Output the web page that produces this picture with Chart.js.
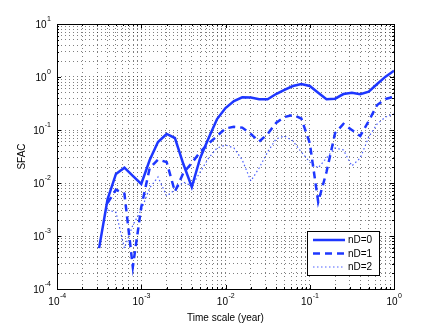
<!DOCTYPE html>
<html>
<head>
<meta charset="utf-8">
<script src="https://cdn.jsdelivr.net/npm/chart.js@4"></script>
<style>
  html, body { margin: 0; padding: 0; background: #fff; }
  #wrap { width: 436px; height: 327px; }
</style>
</head>
<body>
<div id="wrap"><canvas id="c" width="436" height="327"></canvas></div>
<script>
const timeScale = [0.000316, 0.000398, 0.000501, 0.000631, 0.000794, 0.001, 0.00126, 0.00158, 0.002, 0.00251,
  0.00316, 0.00398, 0.00501, 0.00631, 0.00794, 0.01, 0.0126, 0.0158, 0.02, 0.0251,
  0.0316, 0.0398, 0.0501, 0.0631, 0.0794, 0.1, 0.126, 0.158, 0.2, 0.251,
  0.316, 0.398, 0.501, 0.631, 0.794, 1];

const sfacND0 = [0.00059, 0.0049, 0.0148, 0.0195, 0.0136, 0.0096, 0.0272, 0.0594, 0.0841, 0.0706,
  0.0228, 0.0084, 0.0297, 0.0706, 0.161, 0.26, 0.352, 0.414, 0.41, 0.379,
  0.38, 0.477, 0.569, 0.676, 0.738, 0.676, 0.506, 0.379, 0.39, 0.477,
  0.506, 0.472, 0.528, 0.738, 1.014, 1.315];

const sfacND1 = [null, 0.0042, 0.0075, 0.0063, 0.00026, 0.0035, 0.0192, 0.0277, 0.0249, 0.00686,
  0.0155, 0.0238, 0.0385, 0.0556, 0.077, 0.107, 0.115, 0.111, 0.084, 0.0607,
  0.084, 0.1355, 0.176, 0.192, 0.165, 0.0569, 0.0044, 0.0161, 0.0877, 0.13,
  0.1, 0.077, 0.148, 0.296, 0.385, 0.425];

const sfacND2 = [null, 0.0031, 0.0028, 0.00059, 0.0016, 0.0031, 0.0081, 0.013, 0.0057, 0.0074,
  0.0104, 0.0088, 0.0161, 0.0297, 0.0457, 0.052, 0.0457, 0.0272, 0.0109, 0.0192,
  0.0385, 0.0676, 0.077, 0.062, 0.0385, 0.0249, 0.0192, 0.0297, 0.0457, 0.042,
  0.021, 0.0297, 0.0738, 0.13, 0.176, 0.2];

const seriesLabels = ['nD=0', 'nD=1', 'nD=2'];
const xTickDecades = [1e-4, 1e-3, 1e-2, 1e-1, 1];
const yTickDecades = [1e-4, 1e-3, 1e-2, 1e-1, 1, 10];

const BLUE = 'rgb(30,55,255)';
const FONT = '"Liberation Sans", Arial, Helvetica, sans-serif';

function toPairs(ys) {
  return timeScale.map((x, i) => ({x: x, y: ys[i]}));
}
function logTicks(decades) {
  const out = [];
  for (let i = 0; i < decades.length; i++) {
    const d = decades[i];
    out.push(d);
    if (i < decades.length - 1) for (let k = 2; k <= 9; k++) out.push(+(d * k).toPrecision(3));
  }
  return out;
}
function exponentOf(v) {
  const e = Math.round(Math.log10(v));
  return Math.abs(Math.log10(v) - e) > 1e-6 ? null : e;
}

const boxPlugin = {
  id: 'box',
  afterDatasetsDraw(chart) {
    const {ctx, chartArea: a} = chart;
    ctx.save();
    ctx.strokeStyle = '#000';
    ctx.lineWidth = 1;
    ctx.strokeRect(Math.round(a.left) + 0.5, Math.round(a.top) + 0.5,
      Math.round(a.right - a.left), Math.round(a.bottom - a.top));
    const xs = chart.scales.x, ys = chart.scales.y;
    ctx.beginPath();
    xs.ticks.forEach(t => {
      const px = Math.round(xs.getPixelForValue(t.value)) + 0.5;
      const len = exponentOf(t.value) !== null ? 4 : 2;
      ctx.moveTo(px, a.bottom); ctx.lineTo(px, a.bottom - len);
      ctx.moveTo(px, a.top); ctx.lineTo(px, a.top + len);
    });
    ys.ticks.forEach(t => {
      const py = Math.round(ys.getPixelForValue(t.value)) + 0.5;
      const len = exponentOf(t.value) !== null ? 4 : 2;
      ctx.moveTo(a.left, py); ctx.lineTo(a.left + len, py);
      ctx.moveTo(a.right, py); ctx.lineTo(a.right - len, py);
    });
    ctx.stroke();
    ctx.restore();
  },
  afterDraw(chart) {
    const {ctx, chartArea: a} = chart;
    // power-of-ten tick labels with raised exponent
    const xs = chart.scales.x, ys = chart.scales.y;
    ctx.save();
    ctx.fillStyle = '#000';
    ctx.textBaseline = 'middle';
    ctx.textAlign = 'left';
    const baseFont = '10px ' + FONT, supFont = '7px ' + FONT;
    xTickDecades.forEach(v => {
      const e = String(exponentOf(v));
      ctx.font = baseFont; const wb = ctx.measureText('10').width;
      ctx.font = supFont; const we = ctx.measureText(e).width;
      const px = xs.getPixelForValue(v);
      const x0 = px - (wb + we) / 2;
      ctx.font = baseFont; ctx.fillText('10', x0, a.bottom + 13);
      ctx.font = supFont; ctx.fillText(e, x0 + wb + 0.5, a.bottom + 7);
    });
    yTickDecades.forEach(v => {
      const e = String(exponentOf(v));
      ctx.font = baseFont; const wb = ctx.measureText('10').width;
      ctx.font = supFont; const we = ctx.measureText(e).width;
      const py = ys.getPixelForValue(v);
      const xr = a.left - 6;
      ctx.font = supFont; ctx.fillText(e, xr - we, py - 5);
      ctx.font = baseFont; ctx.fillText('10', xr - we - wb - 0.5, py + 1);
    });
    // legend box
    const ds = chart.data.datasets;
    const bx = a.right - 87, by = a.bottom - 58, bw = 72, bh = 44;
    ctx.fillStyle = '#fff';
    ctx.fillRect(bx, by, bw, bh);
    ctx.strokeStyle = '#000';
    ctx.lineWidth = 1;
    ctx.strokeRect(bx + 0.5, by + 0.5, bw, bh);
    ctx.font = '10px ' + FONT;
    ds.forEach((d, i) => {
      const y = by + 9 + i * 13.5;
      ctx.beginPath();
      ctx.strokeStyle = d.borderColor;
      ctx.lineWidth = d.borderWidth;
      ctx.setLineDash(d.borderDash || []);
      ctx.moveTo(bx + 6, y);
      ctx.lineTo(bx + 38, y);
      ctx.stroke();
      ctx.setLineDash([]);
      ctx.fillStyle = '#000';
      ctx.fillText(d.label, bx + 41, y + 0.5);
    });
    ctx.restore();
  }
};

const gridStyle = {
  color: 'rgba(0,0,0,0.5)',
  lineWidth: 1,
  tickLength: 0,
  drawTicks: false
};

new Chart(document.getElementById('c'), {
  type: 'line',
  data: {
    datasets: [
      {label: seriesLabels[0], data: toPairs(sfacND0), borderColor: BLUE, borderWidth: 2.5, pointRadius: 0, fill: false, tension: 0},
      {label: seriesLabels[1], data: toPairs(sfacND1), borderColor: BLUE, borderWidth: 2.5, borderDash: [7, 5], pointRadius: 0, fill: false, tension: 0},
      {label: seriesLabels[2], data: toPairs(sfacND2), borderColor: 'rgba(30,55,255,0.8)', borderWidth: 1.2, borderDash: [1.5, 2.5], pointRadius: 0, fill: false, tension: 0}
    ]
  },
  options: {
    responsive: false,
    animation: false,
    spanGaps: false,
    layout: {padding: {top: 24, right: 42, left: 0, bottom: 0}},
    plugins: {legend: {display: false}, tooltip: {enabled: false}},
    scales: {
      x: {
        type: 'logarithmic',
        min: xTickDecades[0],
        max: xTickDecades[xTickDecades.length - 1],
        afterBuildTicks: s => { s.ticks = logTicks(xTickDecades).map(v => ({value: v})); },
        afterFit: s => { s.height = 38; },
        grid: Object.assign({}, gridStyle),
        border: {display: false, dash: [1, 3]},
        ticks: {display: false, autoSkip: false},
        title: {display: true, text: 'Time scale (year)', color: '#000', font: {family: FONT, size: 10}, padding: {top: 0, bottom: 3}}
      },
      y: {
        type: 'logarithmic',
        min: yTickDecades[0],
        max: yTickDecades[yTickDecades.length - 1],
        afterBuildTicks: s => { s.ticks = logTicks(yTickDecades).map(v => ({value: v})); },
        afterFit: s => { s.width = 57; },
        grid: Object.assign({}, gridStyle),
        border: {display: false, dash: [1, 3]},
        ticks: {display: false, autoSkip: false},
        title: {display: true, text: 'SFAC', color: '#000', font: {family: FONT, size: 10}, padding: {top: 16, bottom: 0}}
      }
    }
  },
  plugins: [boxPlugin]
});
</script>
</body>
</html>
